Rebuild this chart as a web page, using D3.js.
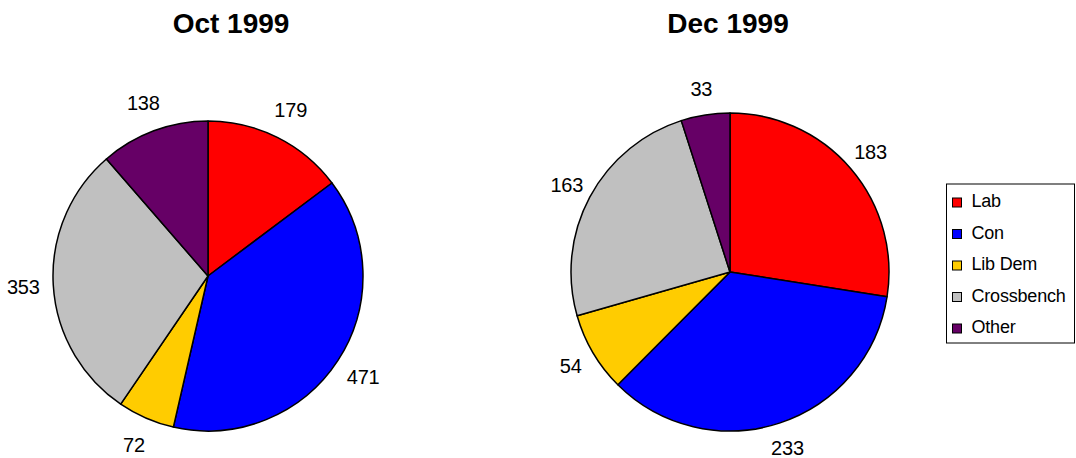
<!DOCTYPE html>
<html>
<head>
<meta charset="utf-8">
<script src="https://cdn.jsdelivr.net/npm/d3@7"></script>
<style>
  body { margin: 0; background: #fff; }
  svg { display: block; font-family: "Liberation Sans", Arial, sans-serif; }
</style>
</head>
<body>
<div id="chart"></div>
<script>
// Data
var parties = ['Lab', 'Con', 'Lib Dem', 'Crossbench', 'Other'];
var partyColors = ['#ff0000', '#0000ff', '#ffcc00', '#c0c0c0', '#660066'];
var octValues = [179, 471, 72, 353, 138];
var decValues = [183, 233, 54, 163, 33];
var titles = ['Oct 1999', 'Dec 1999'];

const width = 1076, height = 458;

var svg = d3.select('#chart')
            .append('svg')
              .attr('width', width)
              .attr('height', height);

var color = d3.scaleOrdinal().domain(parties).range(partyColors);

// pie layout - start at 12 o'clock, clockwise, keep order
var pie = d3.pie().sort(null).value(d => d.value);

function drawPie(values, title, cx, cy, r, labelGap, titleX) {
  var data = parties.map((p, i) => ({ name: p, value: values[i] }));
  var arc = d3.arc().innerRadius(0).outerRadius(r);
  var labelArc = d3.arc().innerRadius(r + labelGap).outerRadius(r + labelGap);

  var g = svg.append('g').attr('transform', `translate(${cx}, ${cy})`);

  g.selectAll('path')
    .data(pie(data))
    .enter()
    .append('path')
      .attr('d', arc)
      .attr('fill', d => color(d.data.name))
      .attr('stroke', '#000')
      .attr('stroke-width', 1.5)
      .attr('stroke-linejoin', 'round');

  g.selectAll('text')
    .data(pie(data))
    .enter()
    .append('text')
      .attr('transform', d => `translate(${labelArc.centroid(d)})`)
      .attr('text-anchor', 'middle')
      .attr('dy', '0.34em')
      .style('font-size', '20px')
      .style('letter-spacing', '-0.2px')
      .text(d => d.data.value);

  svg.append('text')
    .attr('x', titleX)
    .attr('y', 33)
    .attr('text-anchor', 'middle')
    .style('font-size', '28px')
    .style('font-weight', 'bold')
    .text(title);
}

drawPie(octValues, titles[0], 208, 276, 155, 30, 231);
drawPie(decValues, titles[1], 730, 272, 159, 26, 728);

// Legend
var legend = svg.append('g').attr('transform', 'translate(946.5, 184)');

legend.append('rect')
  .attr('width', 128)
  .attr('height', 159)
  .attr('fill', '#fff')
  .attr('stroke', '#000')
  .attr('stroke-width', 1);

var item = legend.selectAll('.item')
  .data(parties)
  .enter()
  .append('g')
    .attr('class', 'item')
    .attr('transform', (d, i) => `translate(0, ${23 + i * 31.5})`);

item.append('rect')
  .attr('x', 6)
  .attr('y', -9)
  .attr('width', 9)
  .attr('height', 9)
  .attr('fill', d => color(d))
  .attr('stroke', '#000')
  .attr('stroke-width', 1);

item.append('text')
  .attr('x', 25)
  .attr('y', 0)
  .style('font-size', '18px')
  .style('letter-spacing', '-0.2px')
  .text(d => d);
</script>
</body>
</html>
